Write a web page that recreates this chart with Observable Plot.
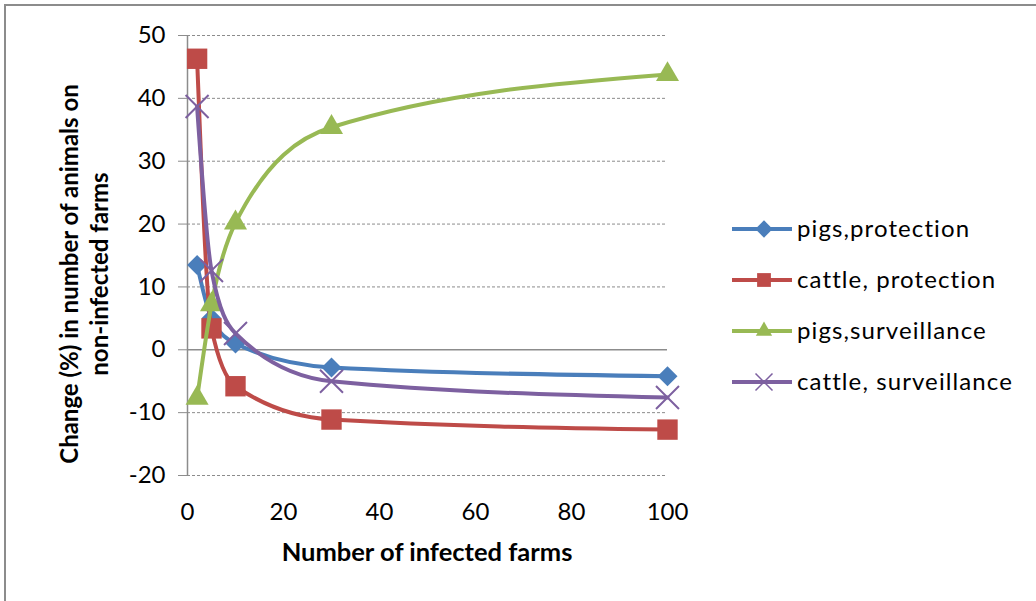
<!DOCTYPE html>
<html><head><meta charset="utf-8">
<script src="https://cdn.jsdelivr.net/npm/d3@7"></script>
<script src="https://cdn.jsdelivr.net/npm/@observablehq/plot@0.6"></script>
<style>
body{margin:0;background:#fff;font-family:Lato,"Liberation Sans",Arial,sans-serif;}
#wrap{position:relative;width:1036px;height:601px;overflow:hidden;background:#fff;}
#frame{position:absolute;left:4px;top:4px;width:1100px;height:700px;border:2px solid #8c8c8c;box-sizing:border-box;}
#chart{position:absolute;left:0;top:0;}
</style></head><body>
<div id="wrap"><div id="frame"></div><div id="chart"></div></div>
<script>
const farms = [2, 5, 10, 30, 100];
const pigsProtection = [13.5, 5, 1, -2.8, -4.2];
const cattleProtection = [46.3, 3.4, -5.8, -11.1, -12.7];
const pigsSurveillance = [-7.7, 7.2, 20.2, 35.4, 43.8];
const cattleSurveillance = [38.7, 12.6, 2.6, -5.0, -7.6];
const seriesNames = ["pigs,protection", "cattle, protection", "pigs,surveillance", "cattle, surveillance"];
const seriesColors = ["#4A7EBB", "#BE4B48", "#98B954", "#7D60A0"];
const seriesSymbols = ["diamond2", "square", "triangle2", "times"];
const yTicks = [-20, -10, 0, 10, 20, 30, 40, 50];
const xTicks = [0, 20, 40, 60, 80, 100];
const xTitle = "Number of infected farms";
const yTitleLines = ["Change (%) in number of animals on", "non-infected farms"];

const seriesValues = [pigsProtection, cattleProtection, pigsSurveillance, cattleSurveillance];
const rows = [];
seriesNames.forEach((name, i) => farms.forEach((f, j) => rows.push({series: name, farms: f, change: seriesValues[i][j]})));

const symbolR = {"diamond2": 9, "square": 11.5, "triangle2": 11, "times": 10.5};

const seriesMarks = [];
seriesNames.forEach((name, i) => {
  const data = rows.filter(d => d.series === name);
  seriesMarks.push(Plot.line(data, {x: "farms", y: "change", stroke: seriesColors[i], strokeWidth: 4, curve: "monotone-x"}));
  if (seriesSymbols[i] === "times") {
    seriesMarks.push(Plot.dot(data, {x: "farms", y: "change", symbol: "times", r: symbolR.times, stroke: seriesColors[i], strokeWidth: 2}));
  } else {
    seriesMarks.push(Plot.dot(data, {x: "farms", y: "change", symbol: seriesSymbols[i], r: symbolR[seriesSymbols[i]], fill: seriesColors[i], stroke: "none"}));
  }
});

const chart = Plot.plot({
  width: 1036, height: 601,
  marginLeft: 187, marginRight: 369, marginTop: 35, marginBottom: 126,
  style: {fontFamily: "Lato, 'Liberation Sans', sans-serif", fontSize: "24px", color: "#000", background: "transparent", overflow: "visible"},
  x: {domain: [0, 100], ticks: xTicks, label: null},
  y: {domain: [-20, 50], ticks: yTicks, label: null},
  marks: [
    Plot.ruleY(yTicks.filter(d => d !== 0), {x1: 0, x2: 100, stroke: "#8c8c8c", strokeDasharray: "3,2"}),
    Plot.ruleY([0], {x1: 0, x2: 100, stroke: "#8c8c8c", strokeWidth: 1.5}),
    Plot.ruleX([0], {y1: -20, y2: 50, stroke: "#8c8c8c", strokeWidth: 1.5}),
    Plot.axisY({ticks: yTicks, tickSize: 9, tickPadding: 13, stroke: "#8c8c8c", fill: "#000", label: null, tickFormat: d => String(d)}),
    Plot.axisX({ticks: xTicks, tickSize: 0, tickPadding: 27, fill: "#000", label: null, tickFormat: d => String(d)}),
    ...seriesMarks
  ]
});
document.getElementById("chart").append(chart);

const svg = d3.select(chart);
// axis titles
svg.append("text").attr("x", 427).attr("y", 561).attr("text-anchor", "middle")
  .attr("font-weight", "bold").attr("font-size", 25.5).attr("fill", "#000").text(xTitle);
const yt = svg.append("g").attr("transform", "translate(85,274) rotate(-90)");
yTitleLines.forEach((t, k) => {
  yt.append("text").attr("x", 0).attr("y", (k - 0.5) * 30).attr("dy", "0.35em").attr("text-anchor", "middle")
    .attr("font-weight", "bold").attr("font-size", 24).attr("fill", "#000").text(t);
});
// legend
const legendSym = {"diamond2": d3.symbolDiamond2, "square": d3.symbolSquare, "triangle2": d3.symbolTriangle2, "times": d3.symbolTimes};
seriesNames.forEach((name, i) => {
  const g = svg.append("g").attr("transform", `translate(732,${229 + i * 51})`);
  g.append("line").attr("x1", 0).attr("x2", 60).attr("y1", 0).attr("y2", 0).attr("stroke", seriesColors[i]).attr("stroke-width", 4);
  const p = d3.symbol(legendSym[seriesSymbols[i]], 190)();
  const s = g.append("path").attr("d", p).attr("transform", "translate(32,0)");
  if (seriesSymbols[i] === "times") s.attr("fill", "none").attr("stroke", seriesColors[i]).attr("stroke-width", 1.5);
  else s.attr("fill", seriesColors[i]);
  g.append("text").attr("x", 65).attr("y", 0).attr("dy", "0.35em").attr("text-anchor", "start")
    .attr("font-size", 24).attr("letter-spacing", "1.1px").attr("fill", "#000").text(name);
});
</script>
</body></html>
